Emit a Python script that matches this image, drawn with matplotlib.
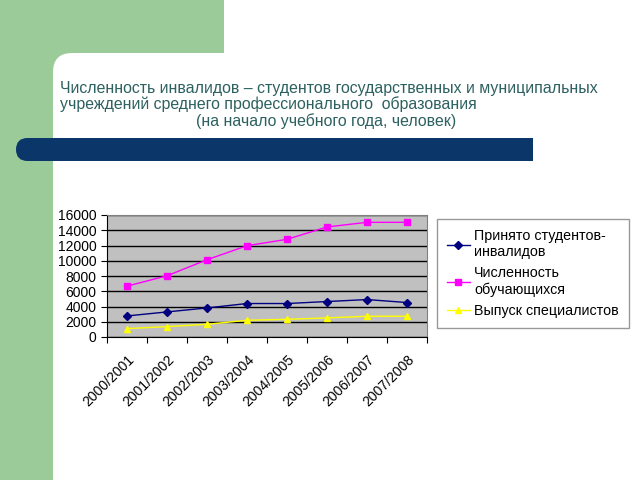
import matplotlib
matplotlib.use("Agg")
import matplotlib.pyplot as plt
from matplotlib.patches import Rectangle, FancyBboxPatch

plt.rcParams['font.family'] = ['Liberation Sans', 'DejaVu Sans']

# данные
years = ["2000/2001", "2001/2002", "2002/2003", "2003/2004",
         "2004/2005", "2005/2006", "2006/2007", "2007/2008"]
prinyato = [2760, 3290, 3810, 4390, 4390, 4650, 4910, 4520]
chislennost = [6670, 8030, 10130, 11970, 12810, 14430, 15040, 15040]
vypusk = [1100, 1360, 1670, 2190, 2320, 2500, 2720, 2720]

labels = ["Принято студентов-\nинвалидов", "Численность\nобучающихся", "Выпуск специалистов"]

W, H = 640, 480
fig = plt.figure(figsize=(6.4, 4.8), dpi=100)
fig.patch.set_facecolor("white")

def fx(px):
    return px / W

def fy(py):
    return 1 - py / H

green = "#9ccb9a"
# фон слайда
fig.patches.append(Rectangle((0, 0), fx(53), 1, transform=fig.transFigure,
                             facecolor=green, edgecolor="none", zorder=0))
fig.patches.append(Rectangle((0, fy(80)), fx(224), 80 / H, transform=fig.transFigure,
                             facecolor=green, edgecolor="none", zorder=0))
fig.patches.append(FancyBboxPatch((fx(53), fy(560)), fx(700), 507 / H,
                                  boxstyle="round,pad=0,rounding_size=0.03",
                                  transform=fig.transFigure, facecolor="white",
                                  edgecolor="none", zorder=1, mutation_aspect=W / H))

# синяя полоса
navy = "#0b3669"
fig.patches.append(FancyBboxPatch((fx(16), fy(161)), fx(490), 23 / H,
                                  boxstyle="round,pad=0,rounding_size=0.018",
                                  transform=fig.transFigure, facecolor=navy,
                                  edgecolor="none", zorder=2, mutation_aspect=W / H))
fig.patches.append(Rectangle((fx(480), fy(161)), fx(53), 23 / H, transform=fig.transFigure,
                             facecolor=navy, edgecolor="none", zorder=2))

# заголовок
tcol = "#2d6060"
fs = 11.4
fig.text(fx(60), fy(88), "Численность инвалидов – студентов государственных и муниципальных",
         fontsize=fs, color=tcol, va="center", zorder=3)
fig.text(fx(60), fy(104), "учреждений среднего профессионального  образования",
         fontsize=fs, color=tcol, va="center", zorder=3)
fig.text(fx(196), fy(121), "(на начало учебного года, человек)",
         fontsize=fs, color=tcol, va="center", zorder=3)

# график
ax = fig.add_axes([fx(107), fy(337), fx(320), 122 / H], zorder=4)
ax.set_facecolor("#c0c0c0")
x = range(len(years))
ax.plot(x, prinyato, color="#000080", marker="D", markersize=4, lw=1, label=labels[0])
ax.plot(x, chislennost, color="#ff00ff", marker="s", markersize=5, lw=1, label=labels[1])
ax.plot(x, vypusk, color="#ffff00", marker="^", markersize=5, lw=1, label=labels[2])

ax.set_xlim(-0.5, 7.5)
ax.set_ylim(0, 16000)
ax.set_yticks(range(0, 16001, 2000))
ax.grid(axis="y", color="black", lw=1)
ax.set_axisbelow(True)
ax.set_xticks([i + 0.5 for i in range(-1, 8)])
ax.set_xticklabels([])
ax.set_xticks(list(x), minor=True)
ax.set_xticklabels(years, minor=True, rotation=45, ha="right", va="top",
                   rotation_mode="anchor", fontsize=10)
ax.tick_params(axis="x", which="minor", length=0, pad=11)
ax.tick_params(axis="x", which="major", length=4, direction="out")
ax.tick_params(axis="y", length=4, labelsize=10, direction="out")
for s in ["top", "right"]:
    ax.spines[s].set_color("#808080")
ax.spines["left"].set_color("black")
ax.spines["bottom"].set_color("black")

leg = fig.legend(loc="upper left", bbox_to_anchor=(fx(437), fy(219)), frameon=True,
                 fancybox=False, edgecolor="#808080", fontsize=10.3, handlelength=1.6,
                 handletextpad=0.3, labelspacing=0.5, borderpad=0.7, borderaxespad=0)
leg.get_frame().set_linewidth(1)
leg.set_zorder(5)

fig.savefig("out.png", dpi=100)
